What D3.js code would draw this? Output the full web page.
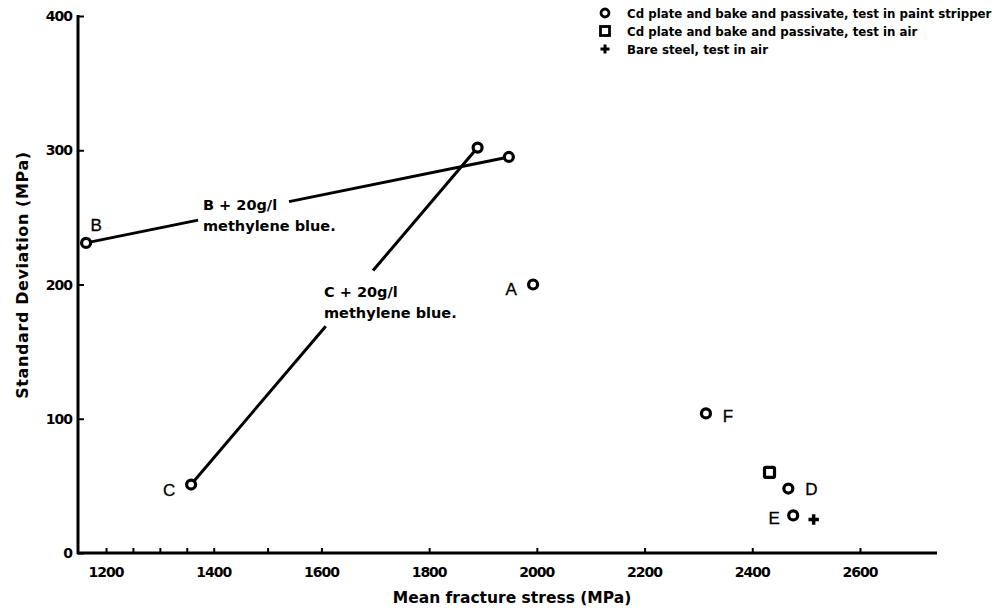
<!DOCTYPE html>
<html lang="en">
<head>
<meta charset="UTF-8">
<script src="https://d3js.org/d3.v7.min.js"></script>
<style>
    body { margin: 0; background: #fff; }
    text { font-family: "DejaVu Sans", sans-serif; font-weight: bold; fill: #000; }
</style>
</head>
<body>
<div id="here"></div>
<script>
    // points: [mean fracture stress, standard deviation]
    const pointNames = ["A", "B", "C", "D", "E", "F", "B + 20g/l", "C + 20g/l"];
    const meanStress = [1993, 1163, 1358, 2467, 2476, 2314, 1948, 1890];
    const stdDev     = [200, 231, 51, 48, 28, 104, 295, 302];

    const airPlated = [[2432, 60]];      // square
    const bareSteel = [[2514, 25]];      // plus

    // lines joining B and C to their methylene blue results
    const links = [["B", "B + 20g/l"], ["C", "C + 20g/l"]];

    const xTicks = [1200, 1400, 1600, 1800, 2000, 2200, 2400, 2600];
    const xMinorTicks = [1250, 1300, 1350, 1500];
    const yTicks = [0, 100, 200, 300, 400];

    const legendLabels = [
        "Cd plate and bake and passivate, test in paint stripper",
        "Cd plate and bake and passivate, test in air",
        "Bare steel, test in air"
    ];

    const W = 999, H = 612;
    const svg = d3.select("#here").append("svg")
        .attr("width", W).attr("height", H);

    const x = d3.scaleLinear().domain([1148, 2743]).range([78, 937]);
    const y = d3.scaleLinear().domain([0, 400]).range([553, 16]);

    // axes
    const xAxis = svg.append("g").attr("transform", "translate(0," + y(0) + ")")
        .call(d3.axisTop(x).tickValues(xTicks.concat(xMinorTicks)).tickSize(5).tickFormat(""));
    xAxis.select(".domain").remove();
    xAxis.selectAll(".tick line").attr("stroke-width", 2);
    svg.append("line").attr("x1", 77).attr("x2", 937).attr("y1", y(0)).attr("y2", y(0))
        .attr("stroke", "#000").attr("stroke-width", 3);
    svg.selectAll("text.xt").data(xTicks).enter().append("text")
        .attr("class", "xt").attr("x", d => x(d)).attr("y", 577)
        .attr("text-anchor", "middle").style("font-size", "14px").style("letter-spacing", "-1px")
        .text(d => d);

    const yAxis = svg.append("g").attr("transform", "translate(" + x(1148) + ",0)")
        .call(d3.axisRight(y).tickValues(yTicks).tickSize(6).tickFormat(""));
    yAxis.select(".domain").remove();
    yAxis.selectAll(".tick line").attr("stroke-width", 2);
    svg.append("line").attr("x1", 78).attr("x2", 78).attr("y1", y(400) - 1).attr("y2", y(0) + 1)
        .attr("stroke", "#000").attr("stroke-width", 3);
    svg.selectAll("text.yt").data(yTicks).enter().append("text")
        .attr("class", "yt").attr("x", 72).attr("y", d => y(d) + 5)
        .attr("text-anchor", "end").style("font-size", "14px").style("letter-spacing", "-1px")
        .text(d => d);

    svg.append("text").attr("x", 512).attr("y", 603).attr("text-anchor", "middle")
        .style("font-size", "15.5px").text("Mean fracture stress (MPa)");
    svg.append("text").attr("transform", "translate(28,275) rotate(-90)").attr("text-anchor", "middle")
        .style("font-size", "16px").style("letter-spacing", "0.6px").text("Standard Deviation (MPa)");

    const pos = name => {
        const i = pointNames.indexOf(name);
        return [x(meanStress[i]), y(stdDev[i])];
    };

    // connecting lines, broken where the labels sit
    const gaps = [[0.265, 0.48], [0.47, 0.635]];
    links.forEach((l, k) => {
        const a = pos(l[0]), b = pos(l[1]);
        const at = t => [a[0] + (b[0] - a[0]) * t, a[1] + (b[1] - a[1]) * t];
        [[0, gaps[k][0]], [gaps[k][1], 1]].forEach(s => {
            const p = at(s[0]), q = at(s[1]);
            svg.append("line").attr("x1", p[0]).attr("y1", p[1]).attr("x2", q[0]).attr("y2", q[1])
                .attr("stroke", "#000").attr("stroke-width", 3);
        });
    });

    // paint stripper points
    svg.selectAll("circle.pt").data(pointNames).enter().append("circle")
        .attr("class", "pt")
        .attr("cx", (d, i) => x(meanStress[i])).attr("cy", (d, i) => y(stdDev[i]))
        .attr("r", 4.5).attr("fill", "#fff").attr("stroke", "#000").attr("stroke-width", 3.2);

    svg.selectAll("rect.air").data(airPlated).enter().append("rect")
        .attr("class", "air")
        .attr("x", d => x(d[0]) - 5).attr("y", d => y(d[1]) - 5)
        .attr("width", 10).attr("height", 10).attr("rx", 1.5)
        .attr("fill", "#fff").attr("stroke", "#000").attr("stroke-width", 3.2);

    const plus = d3.symbol().type(d3.symbolCross).size(60);
    svg.selectAll("path.bare").data(bareSteel).enter().append("path")
        .attr("class", "bare")
        .attr("transform", d => "translate(" + x(d[0]) + "," + y(d[1]) + ")")
        .attr("d", plus).attr("fill", "#000");

    // point letters
    const letterOffset = { A: [-22, 10], B: [10, -12], C: [-22, 11], D: [23, 6], E: [-19, 9], F: [22, 9] };
    Object.keys(letterOffset).forEach(n => {
        const p = pos(n);
        svg.append("text").attr("x", p[0] + letterOffset[n][0]).attr("y", p[1] + letterOffset[n][1])
            .attr("text-anchor", "middle").style("font-size", "17px")
            .style("font-family", "Liberation Sans, Arial, sans-serif")
            .style("stroke", "#000").style("stroke-width", "0.3px")
            .style("font-weight", "normal")
            .text(n);
    });

    // methylene blue annotations
    const notes = [["B + 20g/l", 203, 210], ["C + 20g/l", 324, 297]];
    notes.forEach(nt => {
        const g = svg.append("text").style("font-size", "14.5px");
        g.append("tspan").attr("x", nt[1]).attr("y", nt[2]).text(nt[0]);
        g.append("tspan").attr("x", nt[1]).attr("y", nt[2] + 21).text("methylene blue.");
    });

    // legend
    const legend = svg.append("g").attr("transform", "translate(605,13)");
    legend.append("circle").attr("cx", 0).attr("cy", 0).attr("r", 4)
        .attr("fill", "#fff").attr("stroke", "#000").attr("stroke-width", 2.8);
    legend.append("rect").attr("x", -4.5).attr("y", 13.5).attr("width", 9).attr("height", 9)
        .attr("fill", "#fff").attr("stroke", "#000").attr("stroke-width", 2.8);
    legend.append("path").attr("transform", "translate(0,36)")
        .attr("d", d3.symbol().type(d3.symbolCross).size(45)).attr("fill", "#000");
    legend.selectAll("text").data(legendLabels).enter().append("text")
        .attr("x", 22).attr("y", (d, i) => 5 + i * 18)
        .style("font-size", "11.8px")
        .text(d => d);
</script>
</body>
</html>
